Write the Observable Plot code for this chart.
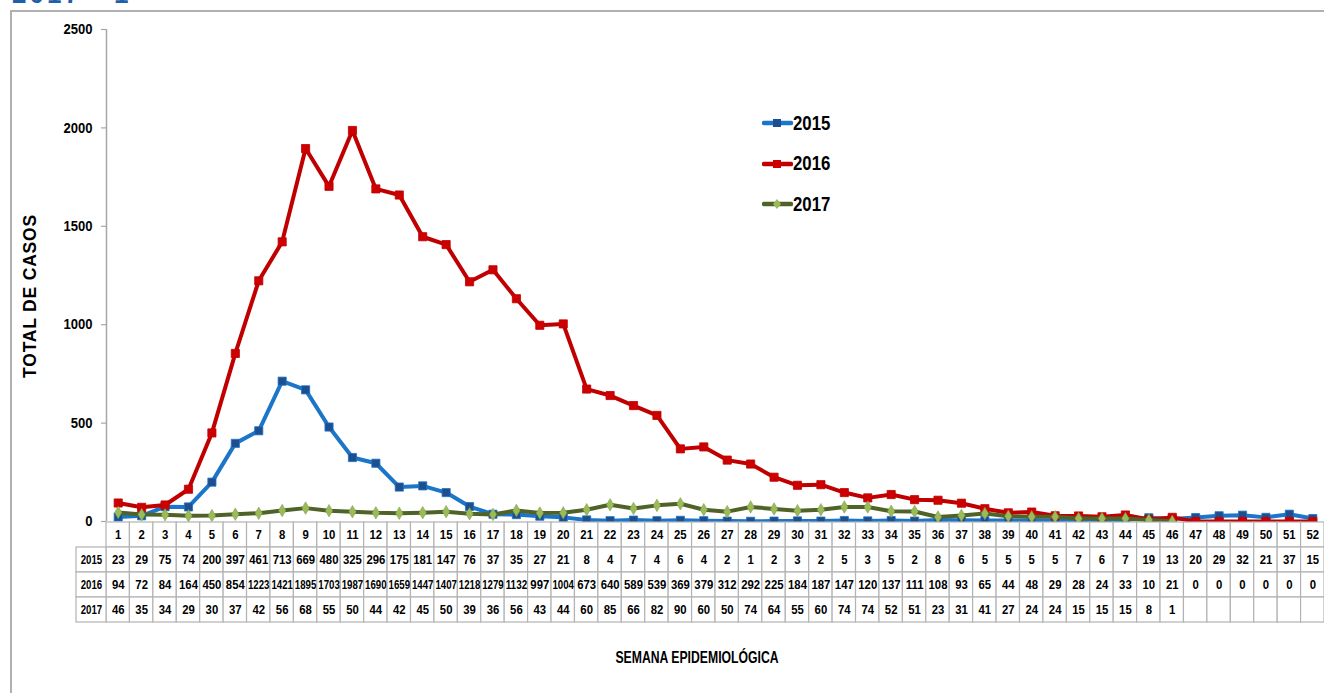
<!DOCTYPE html>
<html>
<head>
<meta charset="utf-8">
<script src="https://cdn.jsdelivr.net/npm/d3@7"></script>
<script src="https://cdn.jsdelivr.net/npm/@observablehq/plot@0.6"></script>
<style>
  html, body { margin: 0; padding: 0; background: #fff; overflow: hidden; }
  #wrap { position: relative; width: 1324px; height: 693px; overflow: hidden; }
  #frame { position: absolute; left: 10px; top: 10px; width: 1400px; height: 800px; border: 2px solid #b0b0b0; box-sizing: border-box; }
  #toptitle { position: absolute; left: 12px; top: -21px; font: bold 26px "Liberation Sans", Arial, sans-serif; color: #1f5fa8; letter-spacing: 3px; }
  #chart, #table { position: absolute; left: 0; }
  #chart { top: 0; width: 1324px; height: 693px; }
  #table { top: 521px; }
  #ytitle { position: absolute; left: 30px; top: 296px; transform: translate(-50%, -50%) rotate(-90deg); font: bold 17.5px "Liberation Sans", Arial, sans-serif; letter-spacing: 0.8px; white-space: nowrap; color: #000; }
  #xtitle { position: absolute; left: 697px; top: 648px; transform: translateX(-50%) scaleX(0.74); font: bold 16.5px "Liberation Sans", sans-serif; white-space: nowrap; color: #000; }
  #legend { position: absolute; left: 762px; top: 103px; font: bold 20px "Liberation Sans", sans-serif; color: #000; }
  #legend .row { display: flex; align-items: center; height: 40.5px; }
  #legend span { display: inline-block; transform: scaleX(0.84); transform-origin: left center; }
</style>
</head>
<body>
<div id="wrap">
  <div id="toptitle">2017 - 1</div>
  <div id="frame"></div>
  <div id="chart"></div>
  <div id="table"></div>
  <div id="ytitle">TOTAL DE CASOS</div>
  <div id="xtitle">SEMANA EPIDEMIOLÓGICA</div>
  <div id="legend"></div>
</div>
<script>
// ---- data ----
const weeks = d3.range(1, 53);
const years = ["2015", "2016", "2017"];
const cases2015 = [23,29,75,74,200,397,461,713,669,480,325,296,175,181,147,76,37,35,27,21,8,4,7,4,6,4,2,1,2,3,2,5,3,5,2,8,6,5,5,5,5,7,6,7,19,13,20,29,32,21,37,15];
const cases2016 = [94,72,84,164,450,854,1223,1421,1895,1703,1987,1690,1659,1447,1407,1218,1279,1132,997,1004,673,640,589,539,369,379,312,292,225,184,187,147,120,137,111,108,93,65,44,48,29,28,24,33,10,21,0,0,0,0,0,0];
const cases2017 = [46,35,34,29,30,37,42,56,68,55,50,44,42,45,50,39,36,56,43,44,60,85,66,82,90,60,50,74,64,55,60,74,74,52,51,23,31,41,27,24,24,15,15,15,8,1];
const yTicks = [0, 500, 1000, 1500, 2000, 2500];

const seriesValues = {"2015": cases2015, "2016": cases2016, "2017": cases2017};
const lineColor = {"2015": "#1b75c9", "2016": "#c00000", "2017": "#4f6228"};
const markColor = {"2015": "#1f4e8f", "2016": "#cc0000", "2017": "#9bbb59"};

const rows = years.flatMap(yr => seriesValues[yr].map((v, i) => ({year: yr, week: weeks[i], value: v})));

const W = 1324;
const font = '"Liberation Sans", Arial, sans-serif';
const unit = (W - 106) / 52; // px per week

// compress SVG texts horizontally (narrow-font look)
function compress(svg, factor, maxLen) {
  d3.select(svg).selectAll("text").each(function() {
    const len = this.getComputedTextLength();
    if (!len) return;
    let target = len * factor;
    if (maxLen && target > maxLen) target = maxLen;
    this.setAttribute("textLength", target);
    this.setAttribute("lengthAdjust", "spacingAndGlyphs");
  });
}

// ---- chart ----
const marks = [
  Plot.ruleX([0.5], {stroke: "#a6a6a6", strokeWidth: 1.5, y1: 0, y2: 2500}),
  Plot.ruleY(yTicks, {y: d => d, x1: 0.5 - 5 / unit, x2: 0.5, stroke: "#a6a6a6", strokeWidth: 1.2}),
  Plot.text(yTicks, {x: 0.5, y: d => d, text: d => String(d), textAnchor: "end", dx: -14, fontWeight: "bold", fontSize: 14.5, fontFamily: font, fill: "#000"})
];
for (const yr of years) {
  const data = rows.filter(d => d.year === yr);
  marks.push(Plot.line(data, {x: "week", y: "value", stroke: lineColor[yr], strokeWidth: 4, strokeLinejoin: "round"}));
  if (yr === "2017") {
    marks.push(Plot.dot(data, {x: "week", y: "value", symbol: "diamond", r: 3.8, fill: markColor[yr], stroke: "#7a9a45", strokeWidth: 0.5}));
  } else {
    marks.push(Plot.dot(data, {x: "week", y: "value", symbol: "square", r: 4.6, fill: markColor[yr], stroke: lineColor[yr], strokeWidth: 0.8}));
  }
}
const chart = Plot.plot({
  width: W, height: 693,
  marginLeft: 106, marginRight: 0, marginTop: 29, marginBottom: 172,
  x: {type: "linear", domain: [0.5, 52.5], axis: null},
  y: {type: "linear", domain: [0, 2500], axis: null},
  style: {background: "transparent", overflow: "visible"},
  marks
});
document.getElementById("chart").appendChild(chart);
compress(chart, 0.9);

// ---- table ----
const tableRows = ["semana", ...years];
const weekCells = weeks.map(w => ({row: "semana", week: w, label: String(w)}));
const valueCells = rows.map(d => ({row: d.year, week: d.week, label: String(d.value)}));
const emptyCells = weeks.filter(w => w > cases2017.length).map(w => ({row: "2017", week: w, label: ""}));
const labelCells = years.map(yr => ({row: yr, label: yr}));
const allCells = [...weekCells, ...valueCells, ...emptyCells];
const labelWidth = 30 / unit; // label column width, in week units
const table = Plot.plot({
  width: W, height: 102,
  marginLeft: 106, marginRight: 0, marginTop: 0, marginBottom: 1,
  x: {type: "linear", domain: [0.5, 52.5], axis: null},
  y: {domain: tableRows, axis: null, padding: 0},
  style: {background: "transparent", overflow: "visible"},
  marks: [
    Plot.barX(allCells, {x1: d => d.week - 0.5, x2: d => d.week + 0.5, y: "row", fill: "#fff", stroke: "#b3b3b3", strokeWidth: 1.2, inset: 0}),
    Plot.barX(labelCells, {x1: 0.5 - labelWidth, x2: 0.5, y: "row", fill: "#fff", stroke: "#b3b3b3", strokeWidth: 1.2, inset: 0}),
    Plot.text(allCells, {x: "week", y: "row", text: "label", fontWeight: "bold", fontSize: 13.5, fontFamily: font, fill: "#000"}),
    Plot.text(labelCells, {x: 0.5 - labelWidth / 2, y: "row", text: "label", fontWeight: "bold", fontSize: 13, fontFamily: font, fill: "#000"})
  ]
});
document.getElementById("table").appendChild(table);
compress(table, 0.84, 21.5);

// ---- legend ----
const legend = d3.select("#legend");
for (const yr of years) {
  const row = legend.append("div").attr("class", "row");
  const svg = row.append("svg").attr("width", 31).attr("height", 14);
  svg.append("line").attr("x1", 2).attr("x2", 29).attr("y1", 7).attr("y2", 7)
    .attr("stroke", lineColor[yr]).attr("stroke-width", 4.5).attr("stroke-linecap", "round");
  if (yr === "2017") {
    svg.append("path").attr("d", "M15,2 L19,7 L15,12 L11,7 Z").attr("fill", markColor[yr]);
  } else {
    svg.append("rect").attr("x", 11).attr("y", 3).attr("width", 8).attr("height", 8).attr("fill", markColor[yr]);
  }
  row.append("span").text(yr);
}
</script>
</body>
</html>
